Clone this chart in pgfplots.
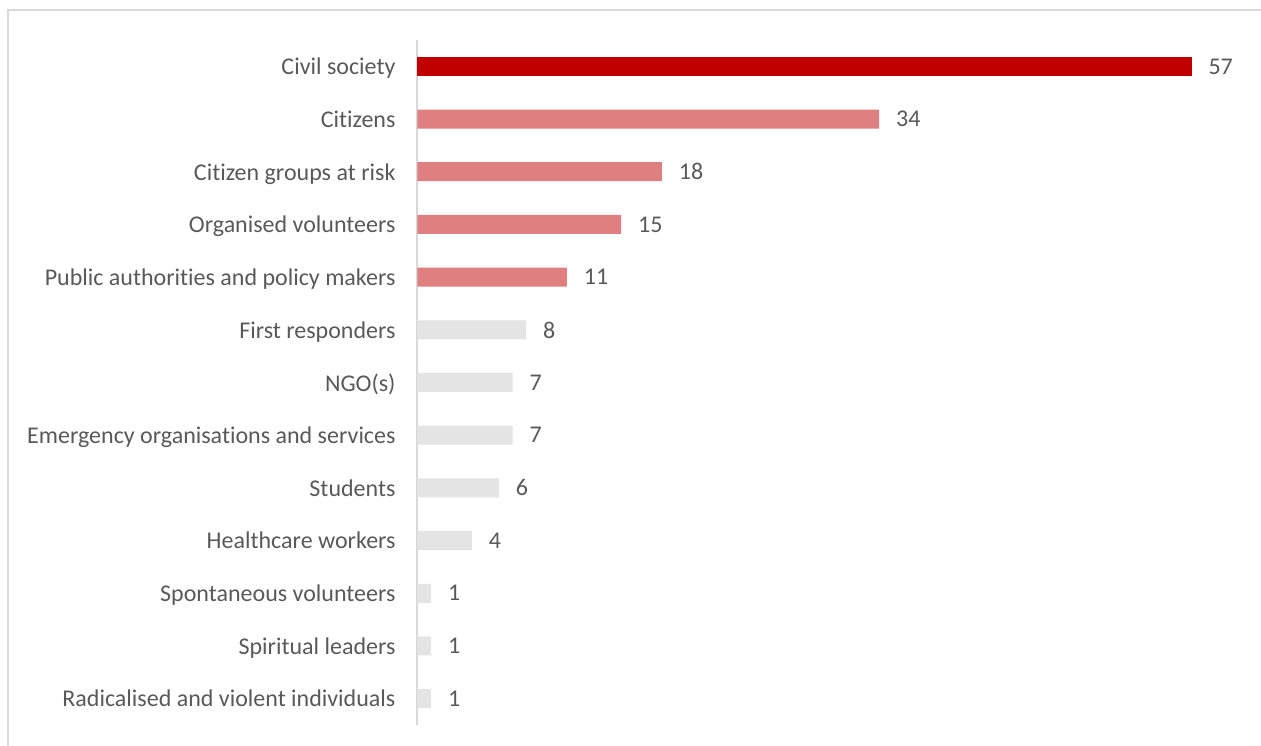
\documentclass[border=0pt]{standalone}
\usepackage{fontspec}
\setmainfont{Carlito}[Ligatures={NoCommon}]
\usepackage{pgfplots}
\pgfplotsset{compat=1.18}
\definecolor{dred}{HTML}{C00000}
\definecolor{pinkc}{HTML}{DF7F7F}
\definecolor{grayc}{HTML}{E4E4E4}
\definecolor{txt}{HTML}{595959}
\definecolor{framec}{HTML}{D9D9D9}
\begin{document}
\begin{tikzpicture}[x=0.6pt,y=0.6pt]
\path[use as bounding box] (0,0) rectangle (1261,746);
\draw[framec, line width=1.2pt] (8,0) -- (8,736) -- (1261,736);
\begin{axis}[
  at={(250.5pt,12.6pt)}, anchor=south west,
  scale only axis, width=488.9pt, height=411pt,
  xmin=0, xmax=60, ymin=-0.5, ymax=12.5,
  xbar, bar width=11.4pt, bar shift=0pt,
  axis x line=none, axis y line=left,
  y axis line style={framec, line width=1.2pt, -},
  ytick={0,...,12},
  yticklabels={Radicalised and violent individuals, Spiritual leaders, Spontaneous volunteers, Healthcare workers, Students, Emergency organisations and services, NGO(s), First responders, Public authorities and policy makers, Organised volunteers, Citizen groups at risk, Citizens, Civil society},
  major tick length=0pt,
  yticklabel style={txt, font=\fontsize{14.4}{17}\selectfont, inner sep=0pt, xshift=-13pt, text depth=0pt},
  /pgf/number format/assume math mode=true,
  nodes near coords={\pgfmathprintnumber{\pgfplotspointmeta}},
  nodes near coords style={txt, font=\fontsize{14.4}{17}\selectfont, anchor=west, inner sep=0pt, xshift=10pt, text depth=0pt},
  clip=false,
]
\addplot[fill=grayc, draw=none] coordinates {(1,0) (1,1) (1,2) (4,3) (6,4) (7,5) (7,6) (8,7)};
\addplot[fill=pinkc, draw=none] coordinates {(11,8) (15,9) (18,10) (34,11)};
\addplot[fill=dred, draw=none] coordinates {(57,12)};
\end{axis}
\end{tikzpicture}
\end{document}
